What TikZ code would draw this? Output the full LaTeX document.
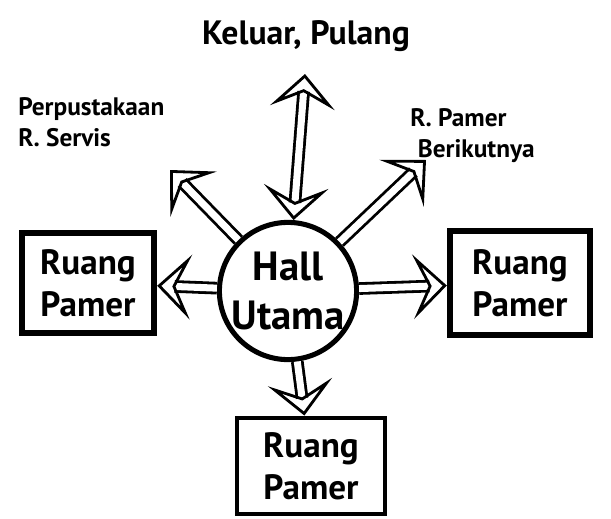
\documentclass[tikz,border=0pt]{standalone}
\usepackage{fontspec}
\setmainfont{PT Sans}
\usepackage{tikz}
\usetikzlibrary{arrows.meta,positioning,shapes.geometric,calc}
\tikzset{
    ruangbox/.style={draw, line width=4.5pt, align=center, font=\bfseries\fontsize{25}{30}\selectfont, inner sep=0pt},
    hallcircle/.style={circle, draw, line width=3.6pt, align=center, font=\bfseries\fontsize{29}{35}\selectfont, minimum size=3.05cm, inner sep=0pt},
    hollowtip/.style={Stealth[open, length=24pt, width=46pt, inset=11pt, line width=2pt]},
    hollowarrow/.style={double, double distance=5pt, line width=2pt, {Stealth[open, length=24pt, width=46pt, inset=11pt, line width=2pt]}-{Stealth[open, length=24pt, width=46pt, inset=11pt, line width=2pt]}},
    hollowto/.style={double, double distance=5pt, line width=2pt, -{Stealth[open, length=24pt, width=46pt, inset=11pt, line width=2pt]}},
    sketchnote/.style={align=left, font=\bfseries\fontsize{18}{22}\selectfont, inner sep=0pt}
}
\begin{document}
\begin{tikzpicture}[x=0.025cm, y=-0.025cm]
    \useasboundingbox (0,0) rectangle (611,519);

    \node[hallcircle] (hall) at (288,291) {Hall\\Utama};
    \node[ruangbox, minimum width=3.3cm, minimum height=2.5cm] (rleft) at (88,283) {Ruang\\Pamer};
    \node[ruangbox, minimum width=3.5cm, minimum height=2.6cm] (rright) at (520,283) {Ruang\\Pamer};
    \node[ruangbox, line width=3.5pt, minimum width=3.7cm, minimum height=2.4cm] (rbottom) at (311,466) {Ruang\\Pamer};

    \node[font=\bfseries\fontsize{24}{28}\selectfont] (keluar) at (306,36) {Keluar, Pulang};
    \node[sketchnote, anchor=west] (perpus) at (18,122) {Perpustakaan\\R. Servis};
    \node[sketchnote, anchor=west] (next) at (410,136) {R. Pamer\\\hspace*{0.3em}Berikutnya};

    \coordinate (exit) at (305,74);
    \coordinate (perpusend) at (170,170);
    \coordinate (nextend) at (426,160);

    \draw[hollowarrow] (exit) -- (hall);
    \draw[hollowto] (hall) -- (perpusend);
    \draw[hollowto] (hall) -- (nextend);
    \draw[hollowto] (hall) -- (rleft);
    \draw[hollowto] (hall) -- (rright);
    \draw[hollowto] (hall) -- (rbottom);
\end{tikzpicture}
\end{document}
